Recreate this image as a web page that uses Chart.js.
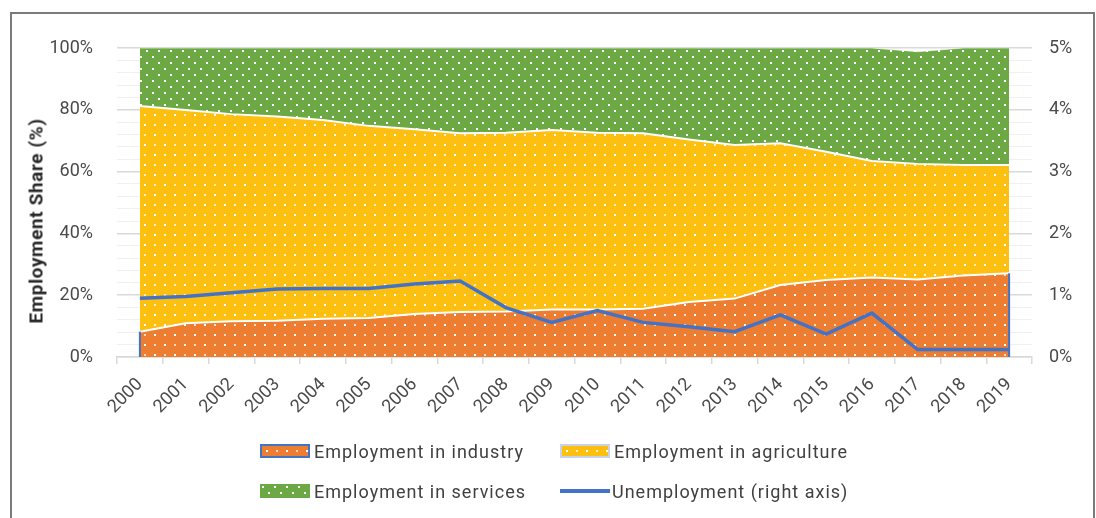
<!DOCTYPE html>
<html>
<head>
<meta charset="utf-8">
<script src="https://cdn.jsdelivr.net/npm/chart.js@4.4.1/dist/chart.umd.min.js"></script>
<style>
  body { margin: 0; background: #fff; overflow: hidden; font-family: Roboto, "Open Sans", sans-serif; }
  #frame { position: absolute; left: 10px; top: 12px; width: 1081px; height: 520px; border: 2px solid #7a7a7a; border-bottom: none; }
  #chart { position: absolute; left: 0; top: 0; }
  #yTitle { position: absolute; left: 36px; top: 221px; transform: translate(-50%, -50%) rotate(-90deg);
            white-space: nowrap; font-weight: bold; font-size: 19px; letter-spacing: 0.6px; color: #262626; }
  #legend { position: absolute; left: 260px; top: 440px; display: grid; grid-template-columns: 300px auto; row-gap: 18px; }
  .item { display: flex; align-items: center; height: 22px; font-size: 18px; letter-spacing: 1px; color: #404040; white-space: nowrap; }
  .swatch { width: 50px; height: 14px; box-sizing: border-box; margin-right: 4px; }
  .lineSwatch { width: 50px; height: 4px; margin-right: 2px; }
</style>
</head>
<body>
<div id="frame"></div>
<canvas id="chart" width="1096" height="518"></canvas>
<div id="yTitle">Employment Share (%)</div>
<div id="legend"></div>
<script>
// Jaren op de x-as
const years = ['2000', '2001', '2002', '2003', '2004', '2005', '2006', '2007', '2008', '2009',
               '2010', '2011', '2012', '2013', '2014', '2015', '2016', '2017', '2018', '2019'];

// Aandeel werkgelegenheid per sector (%)
const industry = [8.2, 10.9, 11.6, 11.7, 12.4, 12.6, 13.9, 14.6, 14.7, 15.4,
                  15.4, 15.6, 17.8, 18.9, 23.3, 24.9, 25.7, 25.1, 26.4, 27.1];
const agriculture = [73.0, 69.0, 67.0, 66.1, 64.3, 62.2, 59.8, 57.8, 57.9, 58.1,
                     57.2, 56.8, 52.6, 49.7, 45.9, 41.5, 37.7, 37.4, 35.7, 35.0];
const services = [18.8, 20.1, 21.4, 22.2, 23.3, 25.2, 26.3, 27.6, 27.4, 26.5,
                  27.4, 27.6, 29.6, 31.4, 30.8, 33.6, 36.6, 36.3, 37.9, 37.9];

// Werkloosheid (%), rechter as
const unemployment = [0.95, 0.98, 1.04, 1.10, 1.11, 1.11, 1.18, 1.23, 0.80, 0.56,
                      0.75, 0.56, 0.49, 0.41, 0.68, 0.37, 0.71, 0.12, 0.12, 0.12];

const leftTicks = [0, 20, 40, 60, 80, 100];
const rightTicks = [0, 1, 2, 3, 4, 5];

// Tegel met witte stippen voor de vlakvulling
function dotTile(base, size, dots) {
    const c = document.createElement('canvas');
    c.width = size;
    c.height = size;
    const g = c.getContext('2d');
    g.fillStyle = base;
    g.fillRect(0, 0, size, size);
    dots.forEach(([x, y, a]) => {
        g.fillStyle = 'rgba(255,255,255,' + a + ')';
        g.fillRect(x, y, 2, 2);
    });
    return c;
}

const tiles = {
    industry: dotTile('#ED7D31', 20, [[4, 4, 1], [14, 4, 0.7], [4, 14, 0.7], [14, 14, 1]]),
    agriculture: dotTile('#FDC010', 20, [[4, 4, 1], [14, 4, 0.7], [4, 14, 0.7], [14, 14, 1]]),
    services: dotTile('#6CA944', 12, [[2, 2, 1], [8, 8, 1]])
};

const ctx = document.getElementById('chart').getContext('2d');
const pat = name => ctx.createPattern(tiles[name], 'repeat');

// Blauwe zijkanten van het industrievlak
const industryEdges = {
    id: 'industryEdges',
    afterDatasetDraw(chart, args) {
        if (args.index !== 0) return;
        const pts = args.meta.data;
        const y0 = chart.scales.y.getPixelForValue(0);
        const c = chart.ctx;
        c.save();
        c.strokeStyle = '#4472C4';
        c.lineWidth = 2;
        [pts[0], pts[pts.length - 1]].forEach(p => {
            c.beginPath();
            c.moveTo(p.x, y0);
            c.lineTo(p.x, p.y);
            c.stroke();
        });
        c.restore();
    }
};

const tickFont = { family: 'Roboto', size: 18 };

const chart = new Chart(ctx, {
    type: 'line',
    data: {
        labels: years,
        datasets: [
            { label: 'Employment in industry', data: industry, yAxisID: 'y', fill: 'origin',
              backgroundColor: pat('industry'), borderColor: '#ffffff', borderWidth: 2, pointRadius: 0, order: 1, tile: 'industry', swatchBorder: '#4472C4' },
            { label: 'Employment in agriculture', data: agriculture, yAxisID: 'y', fill: '-1',
              backgroundColor: pat('agriculture'), borderColor: '#ffffff', borderWidth: 2, pointRadius: 0, order: 1, tile: 'agriculture', swatchBorder: '#c9d3e6' },
            { label: 'Employment in services', data: services, yAxisID: 'y', fill: '-1',
              backgroundColor: pat('services'), borderColor: 'rgba(255,255,255,0.6)', borderWidth: 1, pointRadius: 0, order: 1, tile: 'services' },
            { label: 'Unemployment (right axis)', data: unemployment, yAxisID: 'y1', fill: false,
              borderColor: '#4472C4', borderWidth: 3.5, pointRadius: 0, order: -1 }
        ]
    },
    options: {
        responsive: false,
        animation: false,
        layout: { padding: { top: 48, left: 0, right: 0, bottom: 0 } },
        plugins: { legend: { display: false }, tooltip: { enabled: false } },
        elements: { line: { tension: 0 } },
        scales: {
            x: {
                offset: true,
                grid: { offset: true, drawOnChartArea: false, drawTicks: true, tickLength: 7, color: '#d9d9d9', lineWidth: 1.5 },
                border: { color: '#d9d9d9', width: 1.5 },
                ticks: { maxRotation: 45, minRotation: 45, padding: 10, color: '#4a4a4a', font: tickFont },
                afterFit: s => { s.height = 518 - 357; }
            },
            y: {
                position: 'left',
                stacked: true,
                min: 0,
                max: 100,
                grid: {
                    drawTicks: false,
                    color: c => leftTicks.includes(c.tick.value) ? '#d9d9d9' : '#f0f0f0',
                    lineWidth: c => leftTicks.includes(c.tick.value) ? 1.5 : 1
                },
                border: { display: false },
                ticks: {
                    stepSize: 4,
                    autoSkip: false,
                    padding: 24,
                    color: '#4a4a4a',
                    font: tickFont,
                    callback: v => leftTicks.includes(v) ? v + '%' : ''
                },
                afterFit: s => { s.width = 117; }
            },
            y1: {
                position: 'right',
                min: 0,
                max: 5,
                grid: { drawOnChartArea: false, drawTicks: false },
                border: { display: false },
                ticks: {
                    stepSize: 1,
                    padding: 17,
                    color: '#4a4a4a',
                    font: tickFont,
                    callback: v => rightTicks.includes(v) ? v + '%' : ''
                },
                afterFit: s => { s.width = 1096 - 1032; }
            }
        }
    },
    plugins: [industryEdges]
});

// Legenda in twee kolommen
const legend = document.getElementById('legend');
chart.data.datasets.forEach(ds => {
    const item = document.createElement('div');
    item.className = 'item';
    const sw = document.createElement('div');
    if (ds.tile) {
        sw.className = 'swatch';
        sw.style.backgroundImage = 'url(' + tiles[ds.tile].toDataURL() + ')';
        if (ds.swatchBorder) sw.style.border = '2px solid ' + ds.swatchBorder;
    } else {
        sw.className = 'lineSwatch';
        sw.style.background = ds.borderColor;
    }
    item.appendChild(sw);
    item.appendChild(document.createTextNode(ds.label));
    legend.appendChild(item);
});
</script>
</body>
</html>
